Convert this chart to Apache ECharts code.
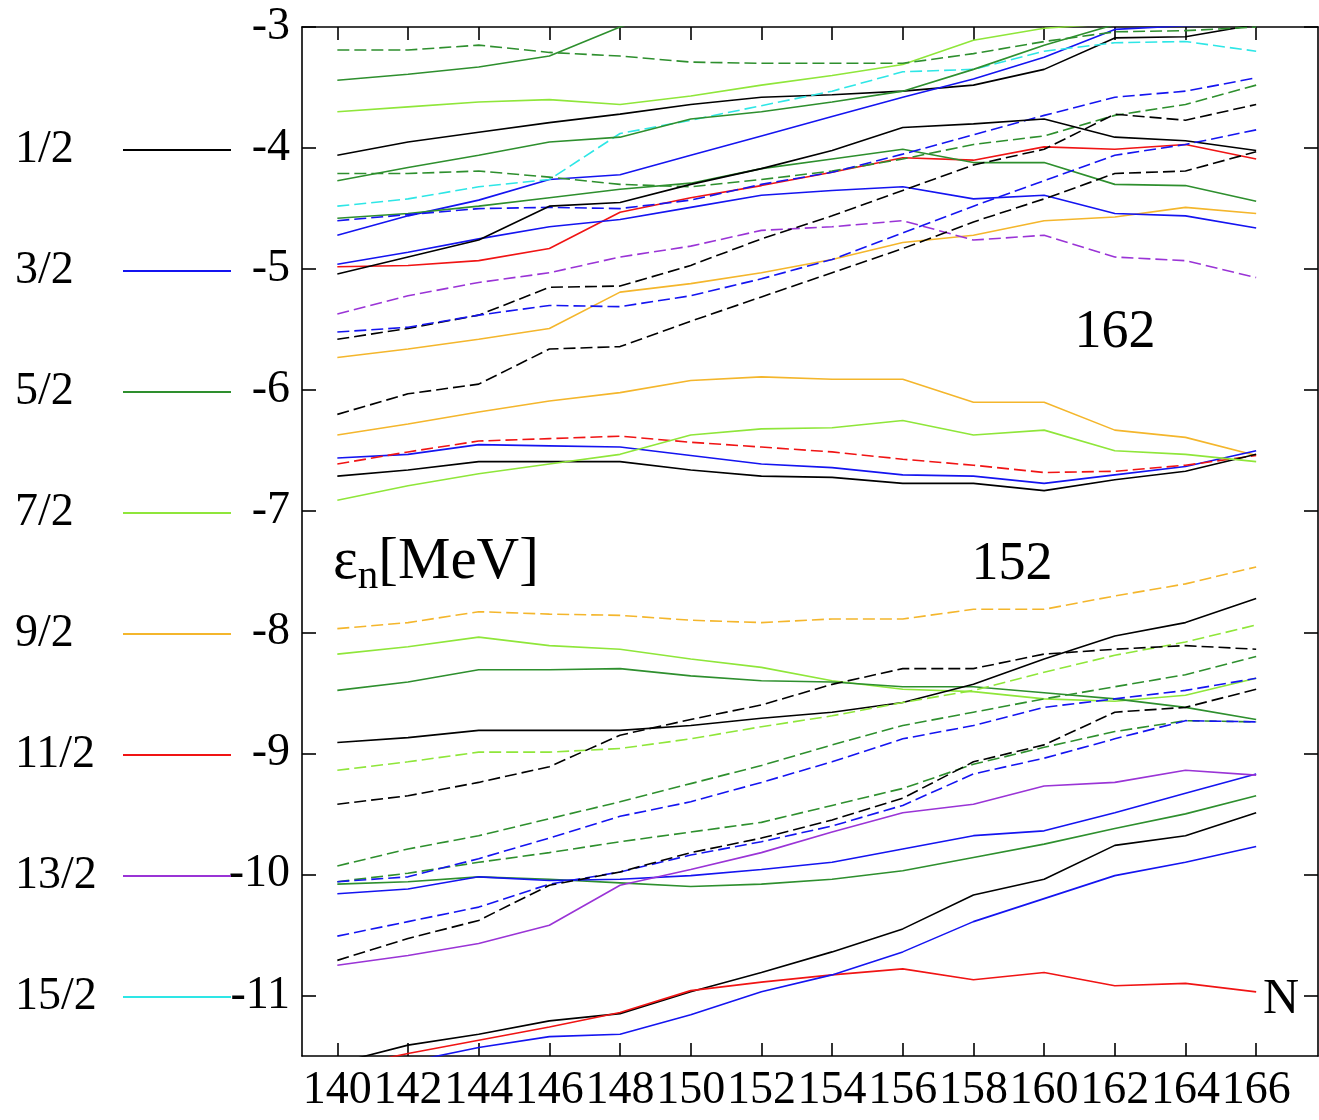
<!DOCTYPE html>
<html>
<head>
<meta charset="utf-8">
<title>Neutron single-particle levels</title>
<script src="https://cdn.jsdelivr.net/npm/echarts@6/dist/echarts.min.js"></script>
<style>
  html, body { margin: 0; padding: 0; background: #ffffff; }
  #chart { width: 1319px; height: 1120px; }
</style>
</head>
<body>
<div id="chart"></div>
<script>
// Neutron number N on the horizontal axis
const neutronNumbers = [140, 142, 144, 146, 148, 150, 152, 154, 156, 158, 160, 162, 164, 166];
const xTickValues = [140, 142, 144, 146, 148, 150, 152, 154, 156, 158, 160, 162, 164, 166];
const yTickValues = [-11, -10, -9, -8, -7, -6, -5, -4, -3];
// Projection quantum numbers Omega, in legend order
const omegaLabels = ['1/2', '3/2', '5/2', '7/2', '9/2', '11/2', '13/2', '15/2'];

// Single-particle energies eps_n [MeV] at each N (null = level above the window)
const levA = [-3.19, -3.19, -3.15, -3.21, -3.24, -3.29, -3.30, -3.30, -3.30, -3.22, -3.12, -3.04, -3.03, -3.00];
const levB = [-3.44, -3.39, -3.33, -3.24, -3.00, -2.80, null, null, null, null, null, null, null, null];
const levC = [-3.70, -3.66, -3.62, -3.60, -3.64, -3.57, -3.48, -3.40, -3.31, -3.11, -3.01, -2.97, null, null];
const levD = [-4.06, -3.95, -3.87, -3.79, -3.72, -3.64, -3.58, -3.56, -3.53, -3.48, -3.35, -3.09, -3.08, -2.98];
const levE = [-4.21, -4.21, -4.19, -4.24, -4.30, -4.32, -4.26, -4.19, -4.09, -3.97, -3.90, -3.73, -3.64, -3.48];
const levF = [-4.27, -4.16, -4.06, -3.95, -3.91, -3.76, -3.70, -3.62, -3.53, -3.35, -3.15, -2.98, null, null];
const levG = [-4.48, -4.42, -4.32, -4.26, -3.88, -3.77, -3.65, -3.53, -3.37, -3.35, -3.20, -3.13, -3.12, -3.20];
const levH = [-4.72, -4.56, -4.43, -4.26, -4.22, -4.06, -3.90, -3.74, -3.58, -3.43, -3.25, -3.02, -2.99, -2.97];
const levI = [-4.58, -4.54, -4.48, -4.41, -4.34, -4.29, -4.17, -4.09, -4.01, -4.12, -4.12, -4.30, -4.31, -4.44];
const levJ = [-4.60, -4.55, -4.50, -4.49, -4.50, -4.43, -4.30, -4.20, -4.05, -3.89, -3.73, -3.58, -3.53, -3.42];
const levK = [-4.98, -4.97, -4.93, -4.83, -4.53, -4.41, -4.31, -4.20, -4.08, -4.10, -3.99, -4.01, -3.97, -4.09];
const levL = [-4.96, -4.86, -4.75, -4.65, -4.59, -4.49, -4.39, -4.35, -4.32, -4.42, -4.39, -4.54, -4.56, -4.66];
const levM = [-5.04, -4.90, -4.76, -4.48, -4.45, -4.30, -4.17, -4.02, -3.83, -3.80, -3.76, -3.91, -3.94, -4.02];
const levN = [-5.37, -5.22, -5.11, -5.03, -4.90, -4.81, -4.68, -4.65, -4.60, -4.76, -4.72, -4.90, -4.93, -5.07];
const levO = [-5.58, -5.49, -5.38, -5.15, -5.14, -4.97, -4.75, -4.56, -4.35, -4.14, -4.01, -3.72, -3.77, -3.64];
const levP = [-5.52, -5.48, -5.38, -5.30, -5.31, -5.22, -5.08, -4.92, -4.70, -4.48, -4.27, -4.06, -3.97, -3.85];
const levQ = [-5.73, -5.66, -5.58, -5.49, -5.19, -5.12, -5.03, -4.92, -4.78, -4.72, -4.60, -4.57, -4.49, -4.54];
const levR = [-6.20, -6.03, -5.95, -5.66, -5.64, -5.43, -5.23, -5.03, -4.83, -4.61, -4.42, -4.21, -4.19, -4.03];
const levS = [-6.37, -6.28, -6.18, -6.09, -6.02, -5.92, -5.89, -5.91, -5.91, -6.10, -6.10, -6.33, -6.39, -6.54];
const levT = [-6.56, -6.53, -6.45, -6.46, -6.47, -6.54, -6.61, -6.64, -6.70, -6.71, -6.77, -6.70, -6.63, -6.50];
const levU = [-6.61, -6.51, -6.42, -6.40, -6.38, -6.43, -6.47, -6.51, -6.57, -6.62, -6.68, -6.67, -6.62, -6.54];
const levV = [-6.71, -6.66, -6.59, -6.59, -6.59, -6.66, -6.71, -6.72, -6.77, -6.77, -6.83, -6.74, -6.67, -6.53];
const levW = [-6.91, -6.79, -6.69, -6.61, -6.53, -6.37, -6.32, -6.31, -6.25, -6.37, -6.33, -6.50, -6.53, -6.59];
const levX1 = [-7.97, -7.92, -7.83, -7.85, -7.86, -7.90, -7.92, -7.89, -7.89, -7.81, -7.81, -7.70, -7.60, -7.46];
const levX2 = [-8.18, -8.12, -8.04, -8.11, -8.14, -8.22, -8.29, -8.40, -8.47, -8.49, -8.55, -8.57, -8.52, -8.38];
const levX3 = [-8.48, -8.41, -8.31, -8.31, -8.30, -8.36, -8.40, -8.41, -8.45, -8.45, -8.50, -8.55, -8.62, -8.72];
const levX4 = [-8.91, -8.87, -8.81, -8.81, -8.81, -8.77, -8.71, -8.66, -8.58, -8.43, -8.22, -8.03, -7.92, -7.72];
const levX5 = [-9.14, -9.07, -8.99, -8.99, -8.96, -8.88, -8.78, -8.69, -8.58, -8.48, -8.33, -8.19, -8.08, -7.94];
const levX6 = [-9.42, -9.35, -9.24, -9.11, -8.85, -8.72, -8.60, -8.43, -8.30, -8.30, -8.18, -8.14, -8.11, -8.14];
const levX7 = [-9.93, -9.79, -9.68, -9.54, -9.40, -9.25, -9.10, -8.93, -8.77, -8.66, -8.55, -8.45, -8.35, -8.20];
const levX8 = [-10.06, -9.99, -9.90, -9.82, -9.73, -9.65, -9.57, -9.43, -9.29, -9.09, -8.95, -8.82, -8.73, -8.74];
const levX9 = [-10.08, -10.06, -10.02, -10.04, -10.07, -10.10, -10.08, -10.04, -9.97, -9.86, -9.75, -9.62, -9.50, -9.35];
const levX10 = [-10.06, -10.02, -9.87, -9.70, -9.52, -9.40, -9.24, -9.07, -8.88, -8.77, -8.62, -8.55, -8.48, -8.38];
const levX11 = [-10.16, -10.12, -10.02, -10.05, -10.04, -10.01, -9.96, -9.90, -9.79, -9.68, -9.64, -9.49, -9.33, -9.17];
const levX12 = [-10.51, -10.39, -10.27, -10.08, -9.98, -9.84, -9.73, -9.60, -9.43, -9.17, -9.04, -8.88, -8.73, -8.74];
const levX13 = [-10.71, -10.53, -10.38, -10.09, -9.98, -9.82, -9.70, -9.55, -9.37, -9.07, -8.93, -8.66, -8.62, -8.47];
const levX14 = [-10.75, -10.67, -10.57, -10.42, -10.09, -9.96, -9.82, -9.65, -9.49, -9.42, -9.27, -9.24, -9.14, -9.18];
const levX15 = [-11.56, -11.41, -11.32, -11.21, -11.15, -10.97, -10.81, -10.64, -10.45, -10.17, -10.04, -9.76, -9.68, -9.49];
const levX16 = [-11.60, -11.48, -11.37, -11.26, -11.14, -10.96, -10.89, -10.83, -10.78, -10.87, -10.81, -10.92, -10.90, -10.97];
const levX17 = [-11.62, -11.55, -11.43, -11.34, -11.32, -11.16, -10.97, -10.83, -10.64, -10.39, -10.20, -10.01, -9.90, -9.77];

// Each level: its Omega and parity
const levels = [
  { omega: '1/2', parity: '+', values: levD },
  { omega: '3/2', parity: '+', values: levH },
  { omega: '5/2', parity: '+', values: levB },
  { omega: '7/2', parity: '+', values: levC },
  { omega: '9/2', parity: '+', values: levQ },
  { omega: '11/2', parity: '+', values: levK },
  { omega: '13/2', parity: '-', values: levN },
  { omega: '15/2', parity: '-', values: levG },
  { omega: '5/2', parity: '-', values: levA },
  { omega: '5/2', parity: '-', values: levE },
  { omega: '5/2', parity: '+', values: levF },
  { omega: '5/2', parity: '+', values: levI },
  { omega: '3/2', parity: '-', values: levJ },
  { omega: '3/2', parity: '+', values: levL },
  { omega: '1/2', parity: '+', values: levM },
  { omega: '1/2', parity: '-', values: levO },
  { omega: '3/2', parity: '-', values: levP },
  { omega: '1/2', parity: '-', values: levR },
  { omega: '9/2', parity: '+', values: levS },
  { omega: '3/2', parity: '+', values: levT },
  { omega: '11/2', parity: '-', values: levU },
  { omega: '1/2', parity: '+', values: levV },
  { omega: '7/2', parity: '+', values: levW },
  { omega: '9/2', parity: '-', values: levX1 },
  { omega: '7/2', parity: '+', values: levX2 },
  { omega: '5/2', parity: '+', values: levX3 },
  { omega: '1/2', parity: '+', values: levX4 },
  { omega: '7/2', parity: '-', values: levX5 },
  { omega: '1/2', parity: '-', values: levX6 },
  { omega: '5/2', parity: '-', values: levX7 },
  { omega: '5/2', parity: '-', values: levX8 },
  { omega: '5/2', parity: '+', values: levX9 },
  { omega: '3/2', parity: '-', values: levX10 },
  { omega: '3/2', parity: '+', values: levX11 },
  { omega: '3/2', parity: '-', values: levX12 },
  { omega: '1/2', parity: '-', values: levX13 },
  { omega: '13/2', parity: '+', values: levX14 },
  { omega: '1/2', parity: '+', values: levX15 },
  { omega: '11/2', parity: '+', values: levX16 },
  { omega: '3/2', parity: '+', values: levX17 }
];

// Line colour per Omega
const omegaColor = {
  '1/2': '#000000',
  '3/2': '#1414f0',
  '5/2': '#2e8f2e',
  '7/2': '#8fe63a',
  '9/2': '#f4b62c',
  '11/2': '#f01414',
  '13/2': '#9a34d6',
  '15/2': '#2ee6e6'
};

const serif = '"Liberation Serif", "Times New Roman", serif';
const frame = { color: '#000', width: 1.6 };

const series = levels.map(function (lv) {
  const color = omegaColor[lv.omega];
  return {
    type: 'line',
    name: lv.omega,
    data: neutronNumbers.map(function (n, i) { return [n, lv.values[i]]; }),
    symbol: 'none',
    clip: true,
    silent: true,
    connectNulls: false,
    itemStyle: { color: color },
    lineStyle: {
      color: color,
      width: 1.6,
      type: lv.parity === '+' ? 'solid' : [12, 5]
    }
  };
});

const chart = echarts.init(document.getElementById('chart'), null, { renderer: 'canvas' });

chart.setOption({
  animation: false,
  backgroundColor: '#ffffff',
  grid: { left: 302, right: 1, top: 27, bottom: 64, containLabel: false, outerBoundsMode: 'none' },
  legend: {
    orient: 'vertical',
    left: 15,
    top: 127,
    padding: 0,
    align: 'right',
    icon: 'rect',
    itemWidth: 108,
    itemHeight: 2,
    itemGap: 75,
    selectedMode: false,
    data: omegaLabels,
    formatter: function (name) { return '{t|' + name + '}'; },
    textStyle: {
      rich: {
        t: { fontFamily: serif, fontSize: 46, color: '#000', width: 103, align: 'left', lineHeight: 40 }
      }
    }
  },
  xAxis: [
    {
      type: 'value', position: 'bottom', min: 139, max: 167.75,
      axisLine: { show: true, onZero: false, lineStyle: frame },
      axisTick: { show: true, inside: true, length: 13, customValues: xTickValues, lineStyle: frame },
      axisLabel: { show: true, customValues: xTickValues, fontFamily: serif, fontSize: 46, color: '#000', margin: 12 },
      splitLine: { show: false }
    },
    {
      type: 'value', position: 'top', min: 139, max: 167.75,
      axisLine: { show: true, onZero: false, lineStyle: frame },
      axisTick: { show: true, inside: true, length: 13, customValues: xTickValues, lineStyle: frame },
      axisLabel: { show: false },
      splitLine: { show: false }
    }
  ],
  yAxis: [
    {
      type: 'value', position: 'left', min: -11.5, max: -3,
      axisLine: { show: true, onZero: false, lineStyle: frame },
      axisTick: { show: true, inside: true, length: 14, customValues: yTickValues, lineStyle: frame },
      axisLabel: { show: true, customValues: yTickValues, fontFamily: serif, fontSize: 46, color: '#000', margin: 12 },
      splitLine: { show: false }
    },
    {
      type: 'value', position: 'right', min: -11.5, max: -3,
      axisLine: { show: true, onZero: false, lineStyle: frame },
      axisTick: { show: true, inside: true, length: 14, customValues: yTickValues, lineStyle: frame },
      axisLabel: { show: false },
      splitLine: { show: false }
    }
  ],
  graphic: [
    { type: 'text', x: 1115, y: 333, silent: true,
      style: { text: '162', font: '54px ' + serif, fill: '#000', align: 'center', verticalAlign: 'middle' } },
    { type: 'text', x: 1012, y: 565, silent: true,
      style: { text: '152', font: '54px ' + serif, fill: '#000', align: 'center', verticalAlign: 'middle' } },
    { type: 'text', x: 333, y: 533, silent: true,
      style: {
        text: '{a|ε}{b|n}{a|[MeV]}', fill: '#000', align: 'left', verticalAlign: 'top',
        rich: {
          a: { fontFamily: serif, fontSize: 59, lineHeight: 59, verticalAlign: 'top' },
          b: { fontFamily: serif, fontSize: 41, lineHeight: 41, verticalAlign: 'top', padding: [24, 0, 0, 0] }
        }
      } },
    { type: 'text', x: 1281, y: 1000, silent: true,
      style: { text: 'N', font: '50px ' + serif, fill: '#000', align: 'center', verticalAlign: 'middle' } }
  ],
  series: series
});
</script>
</body>
</html>
